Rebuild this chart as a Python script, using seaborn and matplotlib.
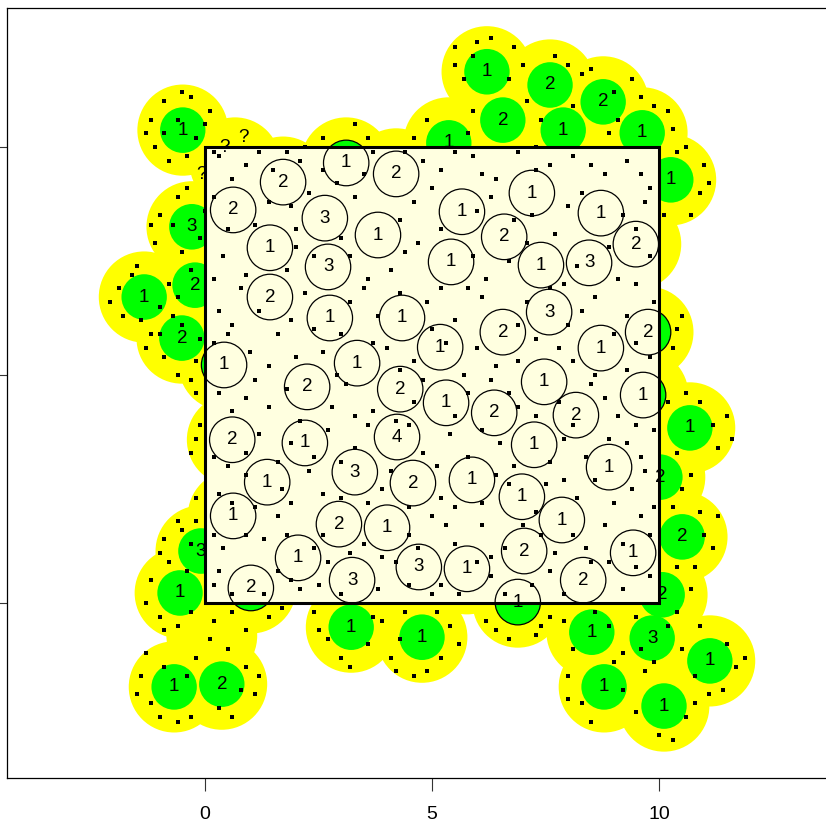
import numpy as np
import pandas as pd
import matplotlib
matplotlib.use("Agg")
import matplotlib.pyplot as plt
import seaborn as sns
from matplotlib.patches import Circle, Rectangle

plt.rcParams['font.family'] = ['Liberation Sans', 'DejaVu Sans']

# ---- points inside the window (open circles, labelled with counts) ----
in_x = [3.11, 4.21, 1.72, 0.62, 2.64, 3.81, 5.66, 7.20, 8.72, 1.43,
        6.59, 5.42, 7.40, 8.46, 9.49, 2.71, 1.43, 2.75, 4.34, 7.58,
        6.56, 9.76, 5.18, 8.72, 0.42, 3.35, 2.25, 4.30, 5.31, 7.47,
        6.37, 8.17, 9.65, 0.60, 2.20, 4.23, 7.25, 8.90, 3.30, 1.37,
        4.58, 5.88, 6.98, 0.62, 2.95, 4.01, 7.86, 2.05, 7.03, 9.43,
        4.71, 3.24, 5.77, 8.33, 1.01, 6.89]
in_y = [9.65, 9.41, 9.23, 8.62, 8.44, 8.07, 8.58, 8.99, 8.55, 7.79,
        8.03, 7.48, 7.41, 7.46, 7.87, 7.37, 6.71, 6.25, 6.25, 6.38,
        5.94, 5.94, 5.61, 5.59, 5.22, 5.26, 4.74, 4.69, 4.39, 4.85,
        4.17, 4.12, 4.56, 3.58, 3.51, 3.64, 3.47, 2.98, 2.87, 2.65,
        2.63, 2.70, 2.33, 1.91, 1.73, 1.65, 1.82, 0.99, 1.14, 1.10,
        0.79, 0.50, 0.75, 0.50, 0.33, 0.02]
in_lab = [1, 2, 2, 2, 3, 1, 1, 1, 1, 1,
          2, 1, 1, 3, 2, 3, 2, 1, 1, 3,
          2, 2, 1, 1, 1, 1, 2, 2, 1, 1,
          2, 2, 1, 2, 1, 4, 1, 1, 3, 1,
          2, 1, 1, 1, 2, 1, 1, 1, 2, 1,
          3, 3, 1, 2, 2, 1]

# ---- points outside the window (green discs with yellow halos) ----
out_x = [-0.49, -0.29, -0.22, -1.34, -0.51, -0.09, -0.55, -0.68, 0.37, 3.22,
         4.78, 8.52, 9.85, 11.12, 8.79, 10.11, 10.07, 10.51, 10.02, 10.68,
         10.26, 9.63, 7.89, 8.77, 7.60, 6.21, 6.56, 5.37]
out_y = [10.37, 8.25, 6.97, 6.71, 5.81, 1.14, 0.22, -1.84, -1.78, -0.53,
         -0.75, -0.64, -0.77, -1.27, -1.84, -2.26, 0.18, 1.45, 2.76, 3.84,
         9.28, 10.31, 10.37, 10.99, 11.36, 11.65, 10.59, 10.09]
out_lab = [1, 3, 2, 1, 2, 3, 1, 1, 2, 1,
           1, 1, 3, 1, 1, 1, 2, 2, 2, 1,
           1, 1, 1, 2, 2, 1, 2, 1]

# ---- halo-only points and '?' labels ----
halo_x = [0.66, 0.15]
halo_y = [9.65, -0.72]
q_x = [0.44, 0.84, -0.07]
q_y = [10.00, 10.20, 9.39]

# ---- scattered small dots ----
dots_in = [
    (0.3, 9.8), (0.9, 9.6), (1.2, 9.9), (2.1, 9.7), (2.6, 9.5), (3.7, 9.9), (4.8, 9.7), (5.2, 9.5),
    (5.9, 9.8), (6.4, 9.3), (6.9, 9.9), (7.6, 9.6), (8.1, 9.8), (8.8, 9.4), (9.3, 9.7), (9.8, 9.1),
    (0.2, 8.9), (1.1, 8.3), (1.9, 8.7), (2.3, 9.0), (3.3, 8.9), (4.6, 8.8), (5.0, 9.1), (6.0, 8.6),
    (6.8, 8.4), (7.7, 8.1), (8.3, 9.0), (9.2, 8.5), (9.7, 8.8),
    (0.4, 7.6), (0.9, 7.2), (2.0, 7.8), (3.2, 7.6), (4.1, 7.3), (4.7, 7.9), (5.9, 7.6), (6.2, 7.1),
    (7.9, 7.0), (8.9, 7.8), (9.5, 7.0),
    (0.3, 6.4), (0.8, 6.9), (1.9, 6.2), (2.2, 6.8), (3.5, 6.9), (3.8, 6.3), (4.9, 6.6), (5.5, 6.2),
    (6.1, 6.7), (7.1, 6.6), (8.0, 6.1), (8.6, 6.7), (9.3, 6.3), (9.9, 6.6),
    (0.2, 5.7), (1.0, 5.5), (1.6, 5.9), (2.6, 5.5), (3.0, 5.9), (4.0, 5.6), (4.6, 5.3), (5.7, 5.0),
    (6.0, 5.6), (6.9, 5.3), (7.3, 5.8), (8.1, 5.3), (9.3, 5.1), (9.8, 5.4),
    (0.3, 4.6), (1.1, 4.9), (1.4, 4.3), (2.8, 4.3), (3.1, 4.8), (3.7, 4.2), (4.8, 4.9), (5.8, 4.6),
    (6.3, 4.9), (6.9, 4.3), (7.8, 4.4), (8.5, 4.8), (9.1, 4.1), (9.9, 3.8),
    (0.2, 3.2), (1.2, 3.7), (1.6, 3.1), (2.7, 3.8), (3.3, 3.4), (3.6, 3.9), (4.8, 3.3), (5.4, 3.7),
    (5.8, 3.2), (6.5, 3.5), (7.9, 3.6), (8.4, 3.2), (9.3, 3.5), (9.7, 2.9),
    (0.3, 2.4), (0.9, 2.8), (1.9, 2.2), (2.3, 2.9), (2.6, 2.4), (3.9, 2.5), (4.1, 2.9), (5.2, 2.3),
    (6.4, 2.8), (7.5, 2.6), (8.2, 2.3), (8.6, 2.7), (9.4, 2.5), (9.9, 2.1),
    (0.2, 1.5), (1.3, 1.4), (1.6, 1.9), (2.4, 1.2), (3.5, 1.3), (4.5, 1.5), (5.0, 1.9), (5.5, 1.3),
    (6.1, 1.7), (6.6, 1.2), (7.4, 1.5), (8.4, 1.2), (8.8, 1.7), (9.8, 1.5),
    (0.3, 0.7), (0.6, 0.2), (1.6, 0.7), (2.1, 0.3), (2.7, 0.9), (3.8, 0.3), (4.2, 0.9), (5.2, 0.4),
    (6.3, 0.6), (6.6, 0.2), (7.6, 0.7), (7.9, 0.2), (8.9, 0.9), (9.2, 0.3), (9.8, 0.6),
    (0.6, 9.3), (1.5, 9.5), (1.8, 9.9), (2.9, 9.2), (3.5, 9.4), (4.4, 9.9), (5.5, 9.9), (6.1, 9.4),
    (7.3, 9.5), (8.5, 9.6), (9.6, 9.4),
    (0.5, 8.2), (1.4, 8.8), (2.0, 8.2), (3.0, 8.0), (4.3, 8.4), (5.2, 8.2), (6.3, 8.9), (7.2, 8.5),
    (8.0, 8.7), (9.5, 8.2),
    (0.2, 7.1), (1.8, 7.3), (2.4, 7.6), (3.6, 7.1), (4.4, 7.7), (5.2, 6.9), (6.7, 7.5), (7.1, 7.9),
    (8.2, 7.4), (9.1, 7.1), (9.8, 7.6),
    (0.6, 6.1), (1.2, 6.4), (2.4, 6.0), (3.2, 6.6), (4.3, 6.8), (5.0, 6.0), (5.8, 6.9), (6.9, 6.1),
    (7.6, 6.9), (8.3, 6.4), (9.0, 5.9),
    (0.5, 5.9), (1.4, 5.2), (2.0, 5.4), (2.9, 5.0), (3.7, 5.7), (4.3, 5.1), (5.3, 5.7), (6.4, 5.2),
    (7.8, 5.6), (8.6, 5.0), (9.5, 5.7),
    (0.6, 4.2), (0.9, 4.5), (1.8, 4.7), (2.1, 4.0), (3.3, 4.1), (4.2, 4.0), (4.6, 4.4), (5.5, 4.1),
    (6.7, 4.6), (7.3, 4.1), (8.8, 4.5), (9.5, 3.9),
    (0.5, 3.0), (0.9, 3.3), (1.9, 3.5), (2.4, 3.2), (3.0, 3.1), (4.5, 3.9), (5.1, 3.0), (6.1, 3.8),
    (6.8, 3.0), (7.6, 3.1), (8.1, 3.9), (8.9, 3.6), (9.6, 3.2),
    (0.6, 2.2), (1.1, 2.1), (1.7, 2.5), (3.0, 2.3), (3.6, 2.2), (4.5, 2.1), (5.5, 2.1), (6.1, 2.2),
    (6.7, 2.6), (7.3, 2.0), (7.9, 2.7), (9.0, 2.2),
    (0.4, 1.2), (0.9, 1.5), (1.8, 1.5), (2.6, 1.5), (3.2, 1.1), (3.9, 1.0), (4.7, 1.2), (5.3, 1.7),
    (6.3, 1.0), (7.0, 1.7), (7.7, 1.1), (8.1, 1.5), (9.2, 1.3), (9.6, 1.9),
    (0.2, 0.4), (1.3, 0.2), (1.9, 0.5), (2.5, 0.4), (3.0, 0.2), (4.5, 0.4), (5.0, 0.2), (5.6, 0.2),
    (6.0, 0.9), (7.2, 0.4), (8.5, 0.9), (9.5, 0.8),
]
dots_out = [
    (-1.2, 10.6), (-0.9, 11.0), (-0.3, 11.1), (0.1, 10.8), (-0.6, 10.6), (-0.2, 10.2), (-1.1, 10.0),
    (-0.8, 9.7), (0.2, 9.9), (-0.9, 10.3), (-0.4, 9.8), (0.0, 10.5), (-1.3, 10.3), (-0.5, 11.2),
    (-1.0, 8.5), (-0.6, 8.9), (0.0, 8.6), (-1.1, 7.9), (-0.5, 7.7), (-0.1, 8.0), (-0.7, 8.3),
    (-1.2, 8.3), (-0.4, 9.1),
    (-1.9, 6.9), (-1.6, 7.2), (-1.0, 6.5), (-1.4, 6.2), (-0.7, 6.3), (-0.3, 7.3), (-0.9, 5.4),
    (-0.2, 5.3), (-1.2, 5.9), (-0.5, 6.1), (-0.1, 5.8), (-2.1, 6.6), (-1.8, 6.3), (-1.5, 7.4),
    (-0.8, 7.0), (-0.6, 6.7), (-1.0, 5.9), (-0.6, 5.0), (-1.3, 5.6),
    (-0.3, 4.9), (-0.2, 3.6), (-0.3, 3.3), (-0.2, 2.3), (-0.6, 1.8), (-0.1, 3.9), (-0.2, 4.6),
    (-0.9, 1.4), (-0.5, 1.6), (-0.2, 1.8), (-1.2, 0.5), (-0.8, 0.9), (-0.3, -0.2), (-1.0, -0.3),
    (-0.6, -0.5), (0.2, -0.4), (0.6, -0.2), (1.4, -0.3), (1.7, -0.1), (-1.0, 1.1), (-0.4, 0.7),
    (-1.3, 0.0), (-0.9, -0.6), (0.9, -0.6), (1.2, -0.7), (-0.3, 1.3),
    (-1.4, -1.6), (-1.2, -2.2), (-0.9, -1.4), (-0.3, -2.5), (-0.2, -1.2), (0.1, -0.8), (0.5, -1.0),
    (0.9, -1.4), (1.1, -2.0), (0.6, -2.5), (-0.6, -2.6), (0.3, -2.3), (-1.5, -2.0), (-1.0, -2.5),
    (-0.4, -1.6), (0.8, -1.9), (1.2, -1.6), (0.0, -2.7), (-1.3, -1.1),
    (2.4, -0.2), (2.7, -0.8), (3.0, -1.2), (3.6, -0.9), (3.9, -0.4), (4.1, -1.2), (4.4, -0.2),
    (5.2, -1.2), (5.4, -0.5), (4.9, -1.5), (4.6, -1.6), (2.5, -0.6), (3.2, -1.4), (3.7, -0.3),
    (4.3, -0.8), (5.1, -0.2), (5.6, -0.9), (4.2, -1.5),
    (6.2, -0.4), (6.5, -0.9), (7.3, -0.7), (7.6, -0.3), (7.0, -1.0), (6.4, -0.6), (7.4, -0.5),
    (6.7, -0.8),
    (7.9, -0.4), (8.1, -1.0), (8.9, -0.5), (9.2, -1.1), (9.5, -0.3), (10.2, -0.5), (10.5, -1.0),
    (10.4, -0.2), (11.5, -0.9), (11.7, -1.4), (10.8, -1.6), (11.4, -1.9), (8.0, -1.6), (8.3, -2.2),
    (9.2, -1.9), (9.5, -2.4), (10.0, -2.9), (10.6, -2.5), (9.7, -1.5), (8.6, -0.2), (9.0, -1.3),
    (9.9, -1.3), (10.9, -0.5), (11.9, -1.2), (11.1, -2.0), (8.5, -2.6), (8.0, -2.1), (10.3, -3.0),
    (10.8, -2.2), (9.6, -1.0),
    (10.7, 0.3), (10.4, 0.8), (11.2, 1.2), (11.3, 1.9), (10.9, 2.0), (10.3, 2.1), (10.7, 2.8),
    (11.3, 3.4), (11.5, 4.1), (10.4, 3.3), (10.2, 4.4), (10.6, 4.6), (10.8, 0.8), (11.0, 1.5),
    (10.5, 2.5), (11.1, 2.6), (11.2, 3.9), (10.9, 4.4), (11.6, 3.6),
    (10.3, 5.6), (10.5, 6.3), (10.2, 7.2), (10.6, 7.9), (10.9, 9.0), (11.0, 9.6), (10.4, 9.9),
    (10.1, 8.5), (10.4, 6.0), (10.3, 6.8), (10.6, 7.5), (10.7, 8.5), (11.1, 9.2), (10.6, 10.0),
    (9.1, 10.6), (9.9, 10.9), (10.3, 10.4), (9.4, 11.5), (8.3, 11.6), (8.1, 10.9), (7.3, 10.0),
    (7.1, 11.0), (7.0, 11.8), (6.3, 12.4), (5.5, 12.2), (5.7, 11.5), (5.9, 10.8), (6.8, 12.2),
    (8.5, 12.1), (4.9, 10.6), (4.6, 10.2), (5.8, 10.3), (3.9, 10.4), (3.3, 10.5), (2.6, 10.2),
    (2.2, 10.0), (9.6, 11.1), (10.2, 10.8), (9.0, 11.2), (8.0, 11.8), (7.7, 12.0), (7.4, 10.6),
    (6.7, 11.5), (6.0, 12.3), (5.5, 11.8), (5.2, 11.2), (5.9, 12.0), (8.9, 10.3), (8.5, 11.7),
    (4.7, 10.8), (3.6, 10.2), (2.9, 10.6), (3.1, 10.9),
]
dot_x = [p[0] for p in dots_in + dots_out]
dot_y = [p[1] for p in dots_in + dots_out]

HALO_R = 1.0
DISC_R = 0.5

fig = plt.figure(figsize=(8.26, 8.27), dpi=100)
W, H = 826.0, 827.0
ax = fig.add_axes([7.5 / W, (H - 778) / H, (826 - 7.5) / W, (778 - 7.5) / H])
ax.set_xlim((7.5 - 205) / 45.4, (826 - 205) / 45.4)
ax.set_ylim((603 - 778) / 45.6, (603 - 7.5) / 45.6)

all_x = in_x + out_x
all_y = in_y + out_y
halo_cx = all_x + halo_x
halo_cy = all_y + halo_y

# yellow halos
for cx, cy in zip(halo_cx, halo_cy):
    ax.add_patch(Circle((cx, cy), HALO_R, facecolor='#FFFF00', edgecolor='none', zorder=1))
# green discs
for cx, cy in zip(all_x, all_y):
    ax.add_patch(Circle((cx, cy), DISC_R, facecolor='#00FF00', edgecolor='none', zorder=2))
# window fill
ax.add_patch(Rectangle((0, 0), 10, 10, facecolor='#FFFFE0', edgecolor='none', zorder=3))

# dots (only where visible: window or yellow region)
dx = np.array(dot_x, float)
dy = np.array(dot_y, float)
hcx = np.array(halo_cx)[None, :]
hcy = np.array(halo_cy)[None, :]
inwin = (dx >= 0) & (dx <= 10) & (dy >= 0) & (dy <= 10)
inhalo = (np.hypot(dx[:, None] - hcx, dy[:, None] - hcy) <= HALO_R * 0.97).any(axis=1)
keep = inwin | inhalo
dots = pd.DataFrame({'x': dx[keep], 'y': dy[keep]})
sns.scatterplot(data=dots, x='x', y='y', marker='s', s=5, color='black',
                linewidth=0, ax=ax, zorder=4, legend=False)

# open circles for inside points
for cx, cy in zip(in_x, in_y):
    ax.add_patch(Circle((cx, cy), DISC_R, facecolor='none', edgecolor='black',
                        linewidth=0.9, zorder=5))
# window border
ax.add_patch(Rectangle((0, 0), 10, 10, facecolor='none', edgecolor='black',
                       linewidth=2.2, zorder=6, joinstyle='miter'))

# labels
for cx, cy, lab in zip(all_x, all_y, in_lab + out_lab):
    ax.text(cx, cy, str(lab), ha='center', va='center', fontsize=13.5, color='black', zorder=7)
for cx, cy in zip(q_x, q_y):
    ax.text(cx, cy, '?', ha='center', va='center', fontsize=13.5, color='black', zorder=7)

# axes styling (R-like)
ax.set_xlabel('')
ax.set_ylabel('')
ax.set_xticks([0, 5, 10])
ax.set_xticklabels(['0', '5', '10'], fontsize=14)
ax.set_yticks([0, 5, 10])
ax.set_yticklabels([])
ax.tick_params(axis='both', direction='out', length=9.4, width=0.8, color='#333333')
ax.tick_params(axis='x', pad=11)
for s in ['left', 'bottom', 'top']:
    ax.spines[s].set_linewidth(0.9)
    ax.spines[s].set_color('black')
ax.spines['right'].set_visible(False)
ax.set_facecolor('white')
ax.grid(False)

fig.savefig('out.png', dpi=100, facecolor='white')
